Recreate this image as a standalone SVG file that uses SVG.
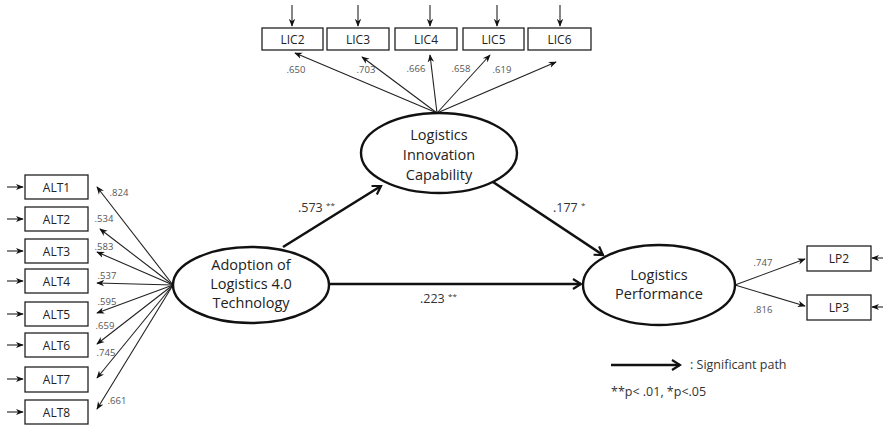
<svg xmlns="http://www.w3.org/2000/svg" width="883" height="426" viewBox="0 0 883 426">
<defs>
<marker id="ah" viewBox="0 0 10 10" refX="9" refY="5" markerWidth="8" markerHeight="8" markerUnits="userSpaceOnUse" orient="auto">
<path d="M0,1 L10,5 L0,9 L3,5 Z" fill="#111"/>
</marker>
<marker id="big" viewBox="0 0 12 12" refX="10" refY="6" markerWidth="12" markerHeight="12" markerUnits="userSpaceOnUse" orient="auto">
<path d="M2,1 L10,6 L2,11" fill="none" stroke="#111" stroke-width="2.2"/>
</marker>
</defs>
<style>
.box{fill:#fff;stroke:#222;stroke-width:1.3}
.ell{fill:#fff;stroke:#111;stroke-width:2.4}
.t{font-family:"Open Sans","Liberation Sans",sans-serif;fill:#222;text-anchor:middle}
.bt{font-size:12px}
.et{font-size:14.5px}
.lab{font-family:"Open Sans","Liberation Sans",sans-serif;font-size:9.5px;fill:#555;text-anchor:middle}
.pl{font-family:"Open Sans","Liberation Sans",sans-serif;font-size:12.5px;fill:#333}
.thin{stroke:#222;stroke-width:1.1;fill:none;marker-end:url(#ah)}
.path{stroke:#111;stroke-width:2.6;fill:none;marker-end:url(#big)}
</style>

<g id="connectors">
<line class="thin" x1="437" y1="113" x2="295" y2="53"/>
<line class="thin" x1="437" y1="113" x2="362" y2="57"/>
<line class="thin" x1="437" y1="113" x2="430" y2="55"/>
<line class="thin" x1="437" y1="113" x2="490" y2="55"/>
<line class="thin" x1="437" y1="113" x2="556" y2="62"/>
<line class="thin" x1="292" y1="5" x2="292" y2="26"/>
<line class="thin" x1="358" y1="5" x2="358" y2="26"/>
<line class="thin" x1="430" y1="5" x2="430" y2="26"/>
<line class="thin" x1="497" y1="5" x2="497" y2="26"/>
<line class="thin" x1="560" y1="5" x2="560" y2="26"/>
<line class="thin" x1="173" y1="285" x2="97" y2="187"/>
<line class="thin" x1="173" y1="285" x2="100" y2="229"/>
<line class="thin" x1="173" y1="285" x2="97" y2="252"/>
<line class="thin" x1="173" y1="285" x2="97" y2="283"/>
<line class="thin" x1="173" y1="285" x2="97" y2="313"/>
<line class="thin" x1="173" y1="285" x2="97" y2="344"/>
<line class="thin" x1="173" y1="285" x2="97" y2="378"/>
<line class="thin" x1="173" y1="285" x2="97" y2="409"/>
<line class="thin" x1="7" y1="187" x2="23" y2="187"/>
<line class="thin" x1="7" y1="219" x2="23" y2="219"/>
<line class="thin" x1="7" y1="251" x2="23" y2="251"/>
<line class="thin" x1="7" y1="281" x2="23" y2="281"/>
<line class="thin" x1="7" y1="314" x2="23" y2="314"/>
<line class="thin" x1="7" y1="345" x2="23" y2="345"/>
<line class="thin" x1="7" y1="379" x2="23" y2="379"/>
<line class="thin" x1="7" y1="412" x2="23" y2="412"/>
<line class="thin" x1="735" y1="285" x2="805" y2="259"/>
<line class="thin" x1="735" y1="285" x2="805" y2="306"/>
<line class="thin" x1="883" y1="258" x2="872" y2="258"/>
<line class="thin" x1="883" y1="307" x2="872" y2="307"/>
<line class="path" x1="283" y1="247" x2="381" y2="186"/>
<line class="path" x1="493" y1="182" x2="603" y2="255"/>
<line class="path" x1="329" y1="284" x2="581" y2="284"/>
<line class="path" x1="611" y1="365" x2="680" y2="365"/>
</g>

<g id="path-labels">
<text class="pl" x="298" y="212">.573 <tspan font-size="8" dy="-4">**</tspan></text>
<text class="pl" x="553" y="212">.177 <tspan font-size="8" dy="-4">*</tspan></text>
<text class="pl" x="420" y="303">.223 <tspan font-size="8" dy="-4">**</tspan></text>
</g>

<g id="loading-labels">
<text class="lab" x="296" y="73">.650</text>
<text class="lab" x="366" y="73">.703</text>
<text class="lab" x="416" y="72">.666</text>
<text class="lab" x="461" y="72">.658</text>
<text class="lab" x="502" y="73">.619</text>
<text class="lab" x="119" y="196">.824</text>
<text class="lab" x="104" y="222">.534</text>
<text class="lab" x="104" y="250">.583</text>
<text class="lab" x="107" y="279">.537</text>
<text class="lab" x="107" y="305">.595</text>
<text class="lab" x="105" y="329">.659</text>
<text class="lab" x="106" y="356">.745</text>
<text class="lab" x="117" y="404">.661</text>
<text class="lab" x="763" y="266">.747</text>
<text class="lab" x="763" y="313">.816</text>
</g>

<g id="LIC2"><rect class="box" x="262" y="28" width="61" height="22"/><text class="t bt" x="292.5" y="43.5">LIC2</text></g>
<g id="LIC3"><rect class="box" x="327" y="28" width="62" height="22"/><text class="t bt" x="358" y="43.5">LIC3</text></g>
<g id="LIC4"><rect class="box" x="395" y="28" width="62" height="22"/><text class="t bt" x="426" y="43.5">LIC4</text></g>
<g id="LIC5"><rect class="box" x="463" y="28" width="61" height="22"/><text class="t bt" x="493.5" y="43.5">LIC5</text></g>
<g id="LIC6"><rect class="box" x="528" y="28" width="63" height="22"/><text class="t bt" x="559.5" y="43.5">LIC6</text></g>

<g id="ALT1"><rect class="box" x="25" y="175" width="63" height="24"/><text class="t bt" x="56.5" y="191.5">ALT1</text></g>
<g id="ALT2"><rect class="box" x="25" y="207" width="63" height="24"/><text class="t bt" x="56.5" y="223.5">ALT2</text></g>
<g id="ALT3"><rect class="box" x="25" y="239" width="63" height="24"/><text class="t bt" x="56.5" y="255.5">ALT3</text></g>
<g id="ALT4"><rect class="box" x="25" y="269" width="63" height="24"/><text class="t bt" x="56.5" y="285.5">ALT4</text></g>
<g id="ALT5"><rect class="box" x="25" y="302" width="63" height="24"/><text class="t bt" x="56.5" y="318.5">ALT5</text></g>
<g id="ALT6"><rect class="box" x="25" y="333" width="63" height="24"/><text class="t bt" x="56.5" y="349.5">ALT6</text></g>
<g id="ALT7"><rect class="box" x="25" y="367" width="63" height="25"/><text class="t bt" x="56.5" y="384">ALT7</text></g>
<g id="ALT8"><rect class="box" x="25" y="400" width="63" height="24"/><text class="t bt" x="56.5" y="416.5">ALT8</text></g>

<g id="LP2"><rect class="box" x="807" y="246" width="64" height="25"/><text class="t bt" x="839" y="263">LP2</text></g>
<g id="LP3"><rect class="box" x="807" y="295" width="64" height="25"/><text class="t bt" x="839" y="312">LP3</text></g>

<g id="LIC">
<ellipse class="ell" cx="439" cy="153" rx="78" ry="40"/>
<text class="t et" x="439" y="140">Logistics</text>
<text class="t et" x="439" y="160">Innovation</text>
<text class="t et" x="439" y="180">Capability</text>
</g>
<g id="ALT">
<ellipse class="ell" cx="251" cy="285" rx="78" ry="38"/>
<text class="t et" x="251" y="270">Adoption of</text>
<text class="t et" x="251" y="289">Logistics 4.0</text>
<text class="t et" x="251" y="308">Technology</text>
</g>
<g id="LP">
<ellipse class="ell" cx="659" cy="285" rx="76" ry="40"/>
<text class="t et" x="659" y="280">Logistics</text>
<text class="t et" x="659" y="299">Performance</text>
</g>

<g id="legend">
<text class="pl" x="690" y="369">: Significant path</text>
<text class="pl" x="611" y="396">**p&lt; .01, *p&lt;.05</text>
</g>
</svg>
